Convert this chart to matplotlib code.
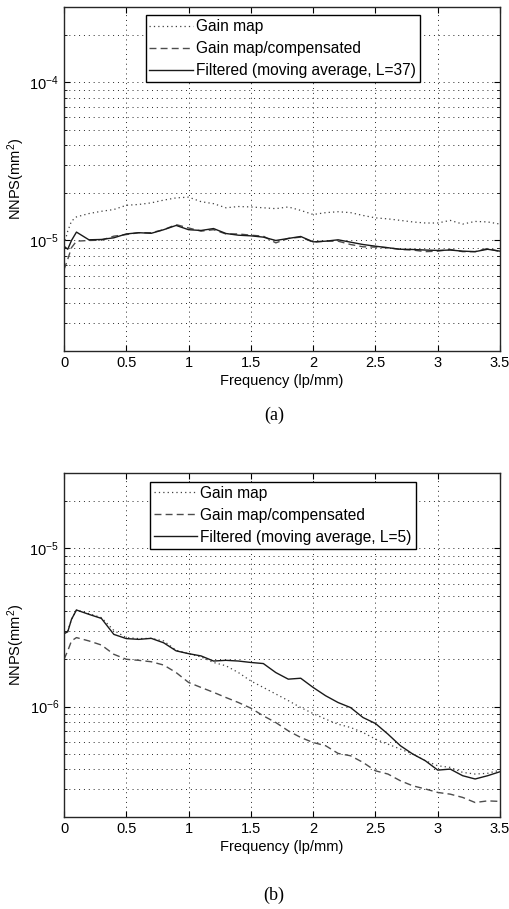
import numpy as np
import matplotlib
matplotlib.use("Agg")
import matplotlib.pyplot as plt

# frequency samples (lp/mm), shared by all curves
freq = [0.0, 0.03, 0.06, 0.1, 0.2, 0.3, 0.4, 0.5, 0.6, 0.7, 0.8, 0.9, 1.0,
        1.1, 1.2, 1.3, 1.4, 1.5, 1.6, 1.7, 1.8, 1.9, 2.0, 2.1, 2.2, 2.3, 2.4,
        2.5, 2.6, 2.7, 2.8, 2.9, 3.0, 3.1, 3.2, 3.3, 3.4, 3.5]

# (a) NNPS values in units of 1e-5 mm^2
a_gain = [0.94, 1.146, 1.325, 1.41, 1.48, 1.53, 1.57, 1.67, 1.69, 1.73, 1.80, 1.86, 1.88,
          1.76, 1.71, 1.61, 1.64, 1.63, 1.61, 1.59, 1.63, 1.55, 1.46, 1.50, 1.52, 1.50, 1.44,
          1.39, 1.37, 1.34, 1.31, 1.29, 1.29, 1.34, 1.27, 1.32, 1.31, 1.27]
a_comp = [0.655, 0.76, 0.90, 0.99, 1.0, 1.005, 1.065, 1.09, 1.12, 1.12, 1.17, 1.26, 1.20,
          1.146, 1.17, 1.10, 1.10, 1.08, 1.065, 0.966, 1.03, 1.05, 0.976, 0.99, 0.99, 0.943, 0.912,
          0.908, 0.90, 0.877, 0.87, 0.85, 0.856, 0.877, 0.85, 0.85, 0.89, 0.85]
a_filt = [0.92, 0.88, 1.0, 1.13, 1.01, 1.015, 1.04, 1.10, 1.12, 1.11, 1.17, 1.245, 1.17,
          1.157, 1.19, 1.107, 1.08, 1.07, 1.05, 1.0, 1.03, 1.06, 0.98, 0.99, 1.01, 0.976, 0.943,
          0.92, 0.90, 0.88, 0.877, 0.87, 0.865, 0.87, 0.856, 0.85, 0.88, 0.856]

# (b) NNPS values in units of 1e-6 mm^2
b_gain = [2.89, 3.0, 3.56, 4.08, 3.87, 3.65, 3.03, 2.73, 2.69, 2.70, 2.60, 2.27, 2.16,
          2.06, 1.90, 1.81, 1.64, 1.45, 1.32, 1.20, 1.09, 0.985, 0.903, 0.832, 0.773, 0.737, 0.685,
          0.622, 0.578, 0.538, 0.500, 0.454, 0.422, 0.412, 0.383, 0.374, 0.378, 0.396]
b_comp = [1.99, 2.25, 2.60, 2.73, 2.60, 2.45, 2.14, 1.99, 1.96, 1.92, 1.83, 1.64, 1.42,
          1.32, 1.23, 1.14, 1.06, 0.976, 0.873, 0.792, 0.702, 0.637, 0.592, 0.565, 0.505, 0.488, 0.443,
          0.392, 0.374, 0.339, 0.315, 0.301, 0.286, 0.279, 0.266, 0.247, 0.253, 0.251]
b_filt = [2.89, 2.97, 3.56, 4.08, 3.83, 3.61, 2.86, 2.69, 2.66, 2.70, 2.53, 2.25, 2.16,
          2.09, 1.94, 1.96, 1.94, 1.90, 1.87, 1.64, 1.49, 1.51, 1.32, 1.17, 1.06, 0.985, 0.852,
          0.781, 0.669, 0.565, 0.500, 0.454, 0.396, 0.402, 0.365, 0.348, 0.365, 0.387]

legend_labels = ["Gain map", "Gain map/compensated"]
filt_labels = ["Filtered (moving average, L=37)", "Filtered (moving average, L=5)"]
captions = ["(a)", "(b)"]

plt.rcParams['font.family'] = ['Liberation Sans', 'DejaVu Sans']
plt.rcParams['font.size'] = 10.5
plt.rcParams['mathtext.default'] = 'regular'

fig = plt.figure(figsize=(5.1, 9.09), dpi=100)
ax_a = fig.add_axes([0.1255, 0.6139, 0.855, 0.3784])
ax_b = fig.add_axes([0.1255, 0.1012, 0.855, 0.3784])

panels = [
    (ax_a, np.array(a_gain) * 1e-5, np.array(a_comp) * 1e-5, np.array(a_filt) * 1e-5,
     (2e-6, 3e-4), filt_labels[0], (0.187, 0.976), captions[0], 0.543),
    (ax_b, np.array(b_gain) * 1e-6, np.array(b_comp) * 1e-6, np.array(b_filt) * 1e-6,
     (2e-7, 3e-5), filt_labels[1], (0.197, 0.974), captions[1], 0.0154),
]

for ax, gain, comp, filt, ylim, flabel, legpos, cap, cap_y in panels:
    ax.plot(freq, gain, linestyle=(0, (1, 2.5)), color='0.25', linewidth=0.9, label=legend_labels[0])
    ax.plot(freq, comp, linestyle=(0, (5, 3)), color='0.3', linewidth=1.0, label=legend_labels[1])
    ax.plot(freq, filt, linestyle='-', color='0.1', linewidth=1.0, label=flabel)
    ax.set_yscale('log')
    ax.set_xlim(0, 3.5)
    ax.set_ylim(*ylim)
    ax.set_xticks([0, 0.5, 1, 1.5, 2, 2.5, 3, 3.5])
    ax.set_xticklabels(["0", "0.5", "1", "1.5", "2", "2.5", "3", "3.5"])
    ax.grid(True, which='major', linestyle=(0, (1, 4)), color='0.15', linewidth=0.7)
    ax.grid(True, which='minor', axis='y', linestyle=(0, (1, 4)), color='0.15', linewidth=0.7)
    ax.tick_params(which='both', direction='in', top=True, right=True)
    ax.tick_params(which='major', length=4)
    ax.tick_params(which='minor', length=2)
    for s in ax.spines.values():
        s.set_linewidth(1.0)
        s.set_color('0.15')
    ax.set_xlabel("Frequency (lp/mm)", labelpad=3)
    ax.set_ylabel("NNPS(mm$^2$)")
    ax.yaxis.set_label_coords(-0.085, 0.5)
    leg = ax.legend(loc='upper left', bbox_to_anchor=legpos, fancybox=False, framealpha=1,
                    edgecolor='black', handlelength=2.8, handletextpad=0.2, labelspacing=0.45,
                    borderpad=0.25, borderaxespad=0, fontsize=11.2)
    leg.get_frame().set_linewidth(1.0)
    fig.text(0.537, cap_y, cap, ha='center', va='center', fontsize=13, family='Liberation Serif')

fig.savefig("out.png", dpi=100)
